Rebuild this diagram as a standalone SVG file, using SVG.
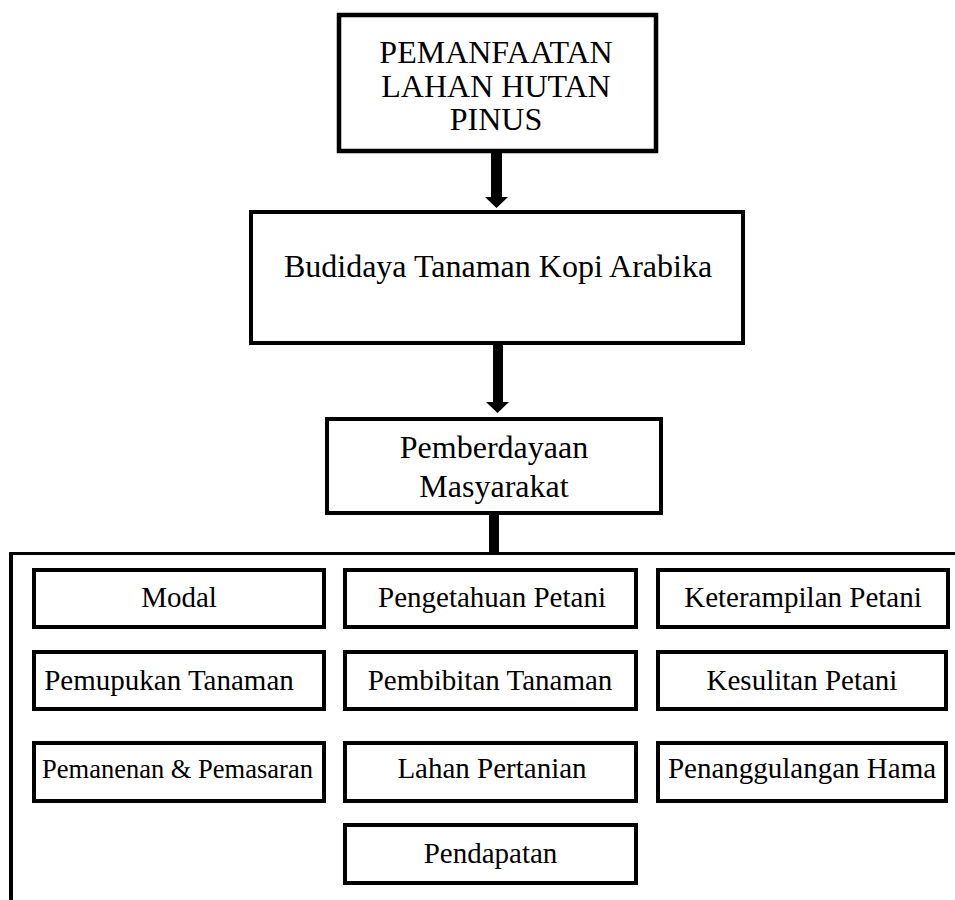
<svg xmlns="http://www.w3.org/2000/svg" width="955" height="900" viewBox="0 0 955 900">
<style>
  .box { fill: #ffffff; stroke: #000000; stroke-width: 4; }
  .big { fill: #000000; stroke: #000000; stroke-width: 4.5; }
  .t { font-family: "Liberation Serif", "Times New Roman", serif; fill: #000000; text-anchor: middle; }
  .t32 { font-size: 32px; }
  .t29 { font-size: 29px; }
  .line { stroke: #000000; fill: none; }
</style>
<rect width="955" height="900" fill="#ffffff"/>
<g id="connectors">
  <rect x="491" y="153" width="11" height="46" fill="#000"/>
  <polygon points="485,197 508,197 496.5,208" fill="#000"/>
  <rect x="493" y="345" width="10" height="58" fill="#000"/>
  <polygon points="486,402 509,402 497.5,413" fill="#000"/>
  <rect x="489" y="515" width="10" height="39" fill="#000"/>
  <line class="line" x1="9.5" y1="553.5" x2="955" y2="553.5" stroke-width="3"/>
  <line class="line" x1="11" y1="552" x2="11" y2="900" stroke-width="4"/>
</g>
<g id="node-pemanfaatan">
  <rect class="box" x="339" y="15" width="317" height="136" style="stroke-width:4.5"/>
  <text class="t t32" x="496" y="63">PEMANFAATAN</text>
  <text class="t t32" x="496" y="97">LAHAN HUTAN</text>
  <text class="t t32" x="496" y="130">PINUS</text>
</g>
<g id="node-budidaya">
  <rect class="box" x="251" y="212" width="492" height="131"/>
  <text class="t t32" x="498" y="277">Budidaya Tanaman Kopi Arabika</text>
</g>
<g id="node-pemberdayaan">
  <rect class="box" x="327" y="419" width="334" height="94"/>
  <text class="t t32" x="494" y="458">Pemberdayaan</text>
  <text class="t t32" x="494" y="497">Masyarakat</text>
</g>
<g id="node-modal">
  <rect class="box" x="34" y="570" width="290" height="57"/>
  <text class="t t29" x="179" y="607">Modal</text>
</g>
<g id="node-pengetahuan">
  <rect class="box" x="345" y="570" width="291" height="57"/>
  <text class="t t29" x="492" y="607">Pengetahuan Petani</text>
</g>
<g id="node-keterampilan">
  <rect class="box" x="658" y="570" width="290" height="57"/>
  <text class="t t29" x="803" y="607">Keterampilan Petani</text>
</g>
<g id="node-pemupukan">
  <rect class="box" x="34" y="652" width="290" height="57"/>
  <text class="t t29" x="169" y="690">Pemupukan Tanaman</text>
</g>
<g id="node-pembibitan">
  <rect class="box" x="345" y="652" width="291" height="57"/>
  <text class="t t29" x="490" y="690">Pembibitan Tanaman</text>
</g>
<g id="node-kesulitan">
  <rect class="box" x="658" y="652" width="288" height="57"/>
  <text class="t t29" x="802" y="690">Kesulitan Petani</text>
</g>
<g id="node-pemanenan">
  <rect class="box" x="34" y="743" width="290" height="58"/>
  <text class="t" style="font-size:26.5px" x="177.5" y="778">Pemanenan &amp; Pemasaran</text>
</g>
<g id="node-lahan">
  <rect class="box" x="345" y="743" width="291" height="58"/>
  <text class="t t29" x="492" y="778">Lahan Pertanian</text>
</g>
<g id="node-penanggulangan">
  <rect class="box" x="658" y="743" width="288" height="58"/>
  <text class="t t29" x="802" y="778">Penanggulangan Hama</text>
</g>
<g id="node-pendapatan">
  <rect class="box" x="345" y="825" width="291" height="58"/>
  <text class="t t29" x="490.5" y="863">Pendapatan</text>
</g>
</svg>
